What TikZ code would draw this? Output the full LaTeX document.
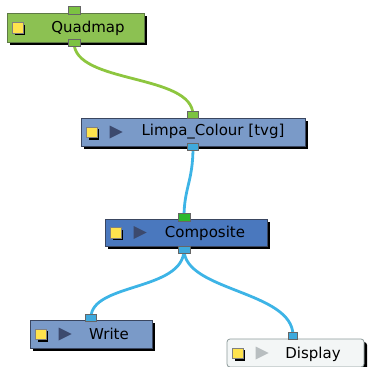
\documentclass[tikz,border=0pt]{standalone}
\usepackage{fontspec}
\setmainfont{DejaVu Sans}
\usetikzlibrary{positioning,shadows,backgrounds}
\definecolor{qgreen}{HTML}{8CC152}
\definecolor{qedge}{HTML}{5E7A45}
\definecolor{lblue}{HTML}{7A9AC8}
\definecolor{cblue}{HTML}{4A78BE}
\definecolor{bedge}{HTML}{3A4660}
\definecolor{dwhite}{HTML}{F3F6F6}
\definecolor{dedge}{HTML}{8C9A9A}
\definecolor{pgreen}{HTML}{7CC242}
\definecolor{cgreen}{HTML}{2DB82D}
\definecolor{pblue}{HTML}{3FA9DC}
\definecolor{wgreen}{HTML}{8DC63F}
\definecolor{wblue}{HTML}{3DB4E6}
\definecolor{tridark}{HTML}{3C4A6E}
\definecolor{trilight}{HTML}{B8BEC0}
\definecolor{iyellow}{HTML}{FFE34D}

\tikzset{
  nodebox/.style={draw=bedge, line width=0.8pt, minimum height=28pt, inner sep=0pt,
    drop shadow={shadow xshift=3pt, shadow yshift=-3pt, opacity=1, fill=black}},
  lbl/.style={font=\fontsize{15}{18}\selectfont, text=black},
  port/.style={draw=black!60, line width=0.6pt, minimum width=11pt, minimum height=7pt, inner sep=0pt},
  icon/.style={fill=iyellow, draw=black!50, line width=0.5pt, minimum size=10.5pt, inner sep=0pt,
    drop shadow={shadow xshift=2.5pt, shadow yshift=-2.5pt, opacity=1, fill=black}},
  wire/.style={line width=2.8pt}
}

\begin{document}
\begin{tikzpicture}[x=1pt, y=-1pt]
\useasboundingbox (0,0) rectangle (367,367);

% node bodies
\node[nodebox, fill=qgreen, draw=qedge, minimum width=137pt, minimum height=29pt] (quad) at (75.5,27.5) {};
\node[nodebox, fill=lblue, minimum width=224pt] (limpa) at (193,132) {};
\node[nodebox, fill=cblue, minimum width=162pt, minimum height=27pt] (comp) at (186,232.5) {};
\node[nodebox, fill=lblue, minimum width=122pt] (write) at (91,334) {};
\node[nodebox, fill=dwhite, draw=dedge, rounded corners=3pt, minimum width=137pt] (disp) at (295.5,353) {};

% labels
\node[lbl] (quadtxt) at (88,28) {Quadmap};
\node[lbl] (limpatxt) at (213,132) {Limpa\_Colour [tvg]};
\node[lbl] (comptxt) at (205,233) {Composite};
\node[lbl] (writetxt) at (109,334) {Write};
\node[lbl] (disptxt) at (313,354) {Display};

% icons
\foreach \n in {quad,limpa,comp,write,disp}
  \node[icon] (\n icon) at ([xshift=11pt]\n.west) {};
\foreach \n/\c in {limpa/tridark,comp/tridark,write/tridark,disp/trilight}
  \fill[\c] ([xshift=29pt]\n.west) ++(0,-6.5) -- ++(13,6.5) -- ++(-13,6.5) -- cycle;

% ports
\node[port, fill=pgreen, minimum width=12pt, minimum height=8pt] (quadtop) at ([xshift=-1.5pt,yshift=2pt]quad.north) {};
\node[port, fill=pgreen, minimum width=12pt] (quadout) at ([xshift=-1.5pt]quad.south) {};
\node[port, fill=pgreen] (limpain) at ([yshift=2.5pt]limpa.north) {};
\node[port, fill=pblue] (limpaout) at ([yshift=-0.5pt]limpa.south) {};
\node[port, fill=cgreen, minimum width=12pt, minimum height=8pt] (compin) at ([xshift=-2pt,yshift=1pt]comp.north) {};
\node[port, fill=pblue, minimum width=12pt] (compout) at ([xshift=-2pt,yshift=-3pt]comp.south) {};
\node[port, fill=pblue] (writein) at ([yshift=2pt]write.north) {};
\node[port, fill=pblue, minimum width=9pt] (dispin) at ([xshift=-2.5pt,yshift=3pt]disp.north) {};

% wires
\begin{scope}[on background layer]
\draw[wire, wgreen] (quadout.center) .. controls +(0,42) and +(0,-42) .. (limpain.center);
\draw[wire, wblue] (limpaout.center) .. controls +(0,35) and +(0,-30) .. (compin.center);
\draw[wire, wblue] (compout.center) .. controls +(0,42) and +(0,-35) .. (writein.center);
\draw[wire, wblue] (compout.center) .. controls +(0,42) and +(0,-45) .. (dispin.center);
\end{scope}
\end{tikzpicture}
\end{document}
